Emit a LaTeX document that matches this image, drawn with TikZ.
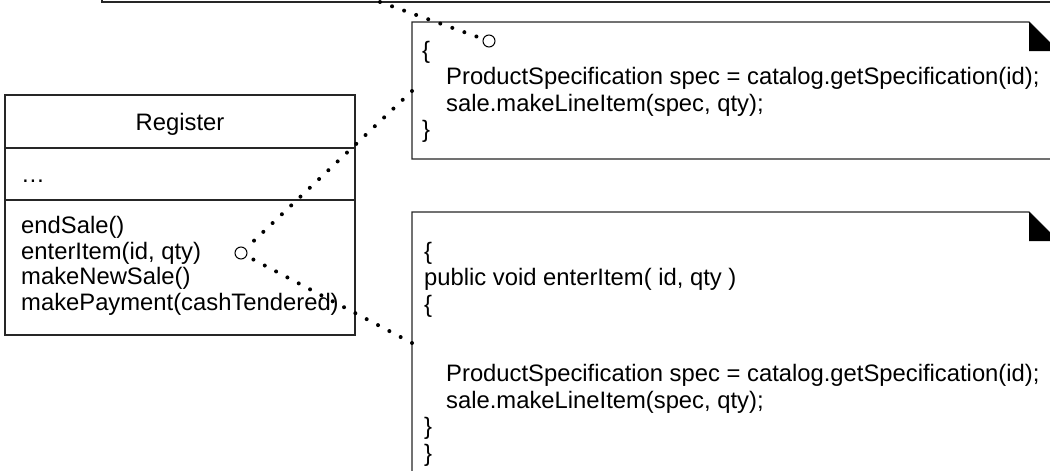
\documentclass[tikz,border=0pt]{standalone}
\usepackage{fontspec}
\setmainfont{Liberation Sans}
\usetikzlibrary{positioning}
\tikzset{
  box/.style={draw=black!85, line width=1.1pt},
  code/.style={inner sep=0pt, anchor=north west, align=left, font=\fontsize{23.8}{26.5}\selectfont},
  oplist/.style={inner sep=0pt, anchor=north west, align=left, font=\fontsize{23.8}{25.7}\selectfont},
  dots/.style={line width=4pt, line cap=round, dash pattern=on 0pt off 12.8pt},
  pin/.style={circle, draw, line width=1pt, minimum size=12pt, inner sep=0pt},
  fold/.style={fill=black}
}

\begin{document}
\begin{tikzpicture}[x=1pt,y=-1pt]
\clip (0,0) rectangle (1050,471);
% note cut off at the top
\draw[box] (102,-40) rectangle (1060,2);
\coordinate (topend) at (380,2);

% first note
\draw[box, fill=white] (412,22) -- (1029,22) -- (1058,51) -- (1058,159) -- (412,159) -- cycle;
\fill[fold] (1029,22) -- (1029,51) -- (1058,51) -- cycle;
\coordinate (n1end) at (412,91);
\node[code] (n1text) at (422,41) {\{\\
\hspace{24pt}ProductSpecification spec = catalog.getSpecification(id);\\
\hspace{24pt}sale.makeLineItem(spec, qty);\\
\}};

% second note
\draw[box, fill=white] (412,212) -- (1029,212) -- (1058,241) -- (1058,520) -- (412,520) -- cycle;
\fill[fold] (1029,212) -- (1029,241) -- (1058,241) -- cycle;
\coordinate (n2end) at (412,343);
\node[code] (n2text) at (424,242) {\{\\
public void enterItem( id, qty )\\
\{\\[43pt]
\hspace{22pt}ProductSpecification spec = catalog.getSpecification(id);\\
\hspace{22pt}sale.makeLineItem(spec, qty);\\
\}\\
\}};

% class Register
\node[box, minimum width=350pt, minimum height=240pt, inner sep=0pt] (reg) at (180,215) {};
\draw[box] (5,148) -- (355,148);
\draw[box] (5,200) -- (355,200);
\node[anchor=base, inner sep=0pt, font=\fontsize{23.8}{26}\selectfont] (regname) at (180,130.5) {Register};
\node[anchor=base west, inner sep=0pt, font=\fontsize{23.8}{26}\selectfont] (attrs) at (21,182) {\dots};
\node[oplist] (ops) at (21,216) {endSale()\\
enterItem(id, qty)\\
makeNewSale()\\
makePayment(cashTendered)};

% pins and dotted links
\node[pin] (pin1) at (489,41) {};
\node[pin] (pin2) at (241,253) {};
\draw[dots] (topend) -- (pin1);
\draw[dots] (n1end) -- (pin2);
\draw[dots] (n2end) -- (pin2);
\end{tikzpicture}
\end{document}
